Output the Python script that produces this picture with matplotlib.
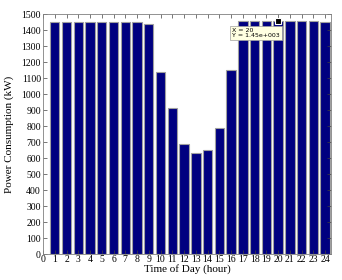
import numpy as np
import matplotlib.pyplot as plt

plt.rcParams['font.family'] = ['Liberation Serif', 'DejaVu Serif']

hours = list(range(1, 25))
power = [1450, 1450, 1450, 1450, 1450, 1450, 1450, 1450, 1437, 1140,
         915, 685, 632, 648, 790, 1150, 1455, 1455, 1455, 1455,
         1455, 1455, 1455, 1448]
x_ticks = list(range(0, 25))
y_ticks = list(range(0, 1501, 100))
tip_x = 20
tip_y = 1455

fig = plt.figure(figsize=(3.42, 2.80), dpi=100)
ax = fig.add_axes([43 / 342, 1 - 254 / 280, 288 / 342, 240 / 280])

ax.bar(hours, power, width=0.8, color='#000080', edgecolor='#a0a0a0', linewidth=0.8)

ax.set_xlim(0, 24.5)
ax.set_ylim(0, 1500)
ax.set_xticks(x_ticks)
ax.set_yticks(y_ticks)
ax.tick_params(direction='in', top=True, right=True, length=3, width=0.5,
               labelsize=7, pad=1.5, colors='#404040', labelcolor='black')
ax.tick_params(axis='x', pad=1)
for s in ax.spines.values():
    s.set_color('#808080')
    s.set_linewidth(0.6)

ax.set_xlabel('Time of Day (hour)', fontsize=8)
ax.xaxis.set_label_coords(0.5, -0.04)
ax.set_ylabel('Power Consumption (kW)', fontsize=8)
ax.yaxis.set_label_coords(-0.1, 0.5)

# data tip
ax.plot([tip_x], [tip_y], marker='s', markersize=4.5, color='black',
        markeredgecolor='white', markeredgewidth=0.8, clip_on=False, zorder=5)
ax.annotate(f'X = {tip_x}\nY = 1.45e+003', xy=(tip_x, tip_y),
            xytext=(232 / 342, 1 - 33 / 280), textcoords='figure fraction',
            fontsize=4.5, family='DejaVu Sans', va='center', ha='left',
            linespacing=1.1,
            bbox=dict(boxstyle='square,pad=0.35', fc='#ffffe1', ec='#a0a0a0', lw=0.5))

fig.savefig('out.png', dpi=100)
